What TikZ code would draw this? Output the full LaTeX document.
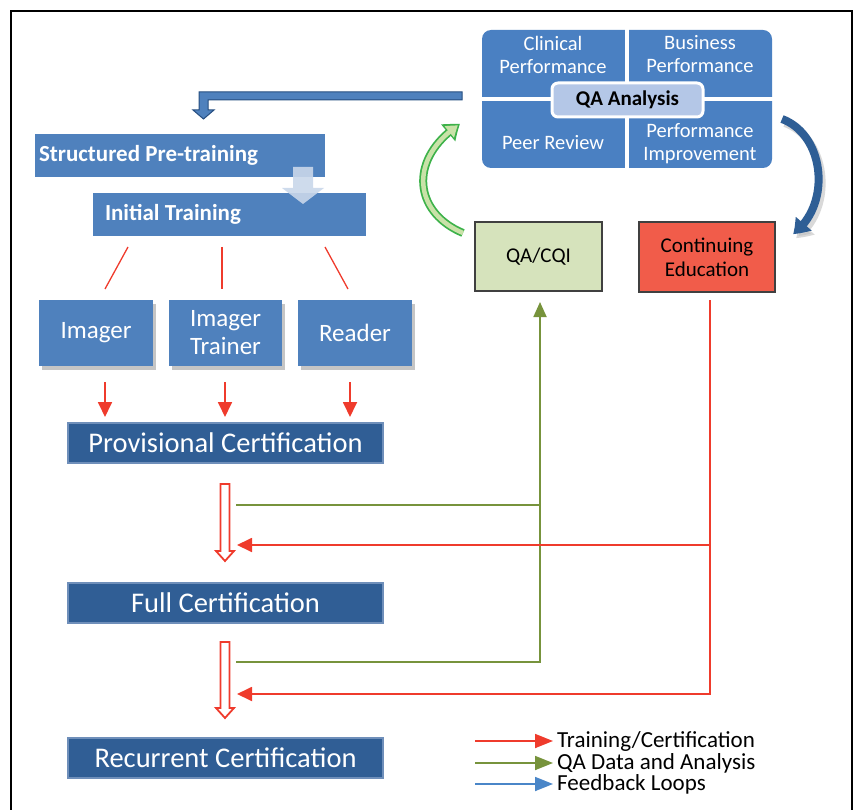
\documentclass[tikz,border=0pt]{standalone}
\usepackage{fontspec}
\setmainfont{Carlito}
\usetikzlibrary{arrows.meta,shadows,bending}
\newcommand\mytightspace{\spaceskip=5.2pt\relax}
\definecolor{boxblue}{HTML}{4F81BD}
\definecolor{qablue}{HTML}{4A80C2}
\definecolor{certblue}{HTML}{305E95}
\definecolor{certglow}{HTML}{6F8FBA}
\definecolor{lightlabel}{HTML}{B4C7E7}
\definecolor{qagreen}{HTML}{D6E3BC}
\definecolor{ceorange}{HTML}{F15C4A}
\definecolor{redline}{HTML}{EF3B2C}
\definecolor{greenline}{HTML}{77933C}
\definecolor{legblue}{HTML}{4A86C8}
\definecolor{fbblue}{HTML}{2E5E95}
\definecolor{fbdark}{HTML}{264E80}
\definecolor{curvegreen}{HTML}{3DB24A}
\definecolor{curvelight}{HTML}{C9E2A8}
\definecolor{downarrow}{HTML}{C9D7EA}
\begin{document}
\begin{tikzpicture}[x=1pt,y=-1pt,
  trainbox/.style={fill=boxblue, draw=none, text=white, font=\bfseries\fontsize{23}{26}\selectfont, minimum height=43pt, inner ysep=0pt},
  rolebox/.style={fill=boxblue, draw=none, text=white, font=\fontsize{25}{28}\selectfont, align=center, minimum width=114pt, minimum height=66pt, inner sep=0pt,
     drop shadow={shadow xshift=3pt, shadow yshift=-4pt, fill=black!45, opacity=0.5}},
  certbox/.style={fill=certblue, draw=certglow, line width=1.5pt, text=white, font=\fontsize{28.5}{32}\selectfont, minimum width=315pt, minimum height=40pt, inner sep=0pt},
  quadtext/.style={text=white, font=\fontsize{20.5}{23}\selectfont, align=center, inner sep=0pt},
  outbox/.style={draw=black!75, line width=1.5pt, font=\fontsize{21}{24}\selectfont, align=center, inner sep=0pt},
  rline/.style={draw=redline, line width=1.8pt},
  gline/.style={draw=greenline, line width=1.8pt},
  rtip/.style={-{Triangle[length=15pt,width=14pt]}},
  legtext/.style={font=\fontsize{23}{23}\selectfont, anchor=west, inner sep=0pt}
]
\useasboundingbox (0,0) rectangle (856,810);
% frame
\draw[line width=2.2pt] (11,812) -- (11,11) -- (852,11) -- (852,812);

% QA analysis block
\fill[qablue, rounded corners=9pt] (482,30) rectangle (772,168);
\draw[white, line width=4pt] (627,29) -- (627,169);
\draw[white, line width=4pt] (481,99) -- (773,99);
\node[quadtext] (clin) at (553,54.5) {Clinical\\Performance};
\node[quadtext] (bus) at (700,54.5) {Business\\Performance};
\node[quadtext] (peer) at (553,143) {Peer Review};
\node[quadtext] (perf) at (700,143.5) {Performance\\Improvement};
\node[fill=lightlabel, draw=white, line width=3pt, rounded corners=6pt, minimum width=151pt, minimum height=34pt, inner sep=0pt, font=\bfseries\fontsize{21}{24}\selectfont] (qaa) at (627.5,100) {QA Analysis};

% feedback arrow to structured pre-training
\filldraw[fill=boxblue, draw=fbdark, line width=1pt] (462,92) -- (199,92) -- (199,110) -- (193,110) -- (203.5,119) -- (214,110) -- (208,110) -- (208,100) -- (462,100) -- cycle;

% training boxes
\node[trainbox, text width=282pt, inner xsep=4pt, align=left] (spt) at (180,155.5) {\mytightspace Structured Pre-training};
\node[trainbox, text width=249pt, inner xsep=12pt, align=left] (it) at (229.5,214.5) {\mytightspace Initial Training};
\fill[downarrow, opacity=0.9] (293,167) -- (313,167) -- (313,188) -- (324,188) -- (303,204) -- (282,188) -- (293,188) -- cycle;

% roles
\node[rolebox] (imager) at (96,333) {Imager};
\node[rolebox, minimum width=113pt] (trainer) at (225.5,333) {Imager\\Trainer};
\node[rolebox] (reader) at (355,333) {Reader};

\coordinate (l1a) at (128,247); \coordinate (l1b) at (105,289);
\coordinate (l2a) at (222,247); \coordinate (l2b) at (222,289);
\coordinate (l3a) at (325,247); \coordinate (l3b) at (348,289);
\draw[rline, line width=1.3pt] (l1a) -- (l1b);
\draw[rline, line width=1.3pt] (l2a) -- (l2b);
\draw[rline, line width=1.3pt] (l3a) -- (l3b);

% certification boxes
\node[certbox] (prov) at (225.5,443) {Provisional Certification};
\node[certbox] (full) at (225.5,603) {Full Certification};
\node[certbox] (rec) at (225.5,758) {Recurrent Certification};

\coordinate (a1a) at (105,382); \coordinate (a1b) at (105,417);
\coordinate (a2a) at (225,382); \coordinate (a2b) at (225,417);
\coordinate (a3a) at (350,382); \coordinate (a3b) at (350,417);
\draw[rline, rtip] (a1a) -- (a1b);
\draw[rline, rtip] (a2a) -- (a2b);
\draw[rline, rtip] (a3a) -- (a3b);

% hollow arrows
\filldraw[fill=white, draw=redline, line width=1.8pt, line join=miter] (220.5,484) -- (229.5,484) -- (229.5,551) -- (234,551) -- (225,561) -- (216,551) -- (220.5,551) -- cycle;
\filldraw[fill=white, draw=redline, line width=1.8pt, line join=miter] (220.5,642) -- (229.5,642) -- (229.5,708) -- (234,708) -- (225,718) -- (216,708) -- (220.5,708) -- cycle;

% QA/CQI and Continuing Education
\node[outbox, fill=qagreen, minimum width=127pt, minimum height=69pt] (qacqi) at (538.5,256.5) {QA/CQI};
\node[outbox, fill=ceorange, minimum width=136pt, minimum height=70pt] (ce) at (707,257) {Continuing\\Education};

% green data lines
\coordinate (gtip) at (540,302);
\coordinate (gc1) at (540,505); \coordinate (ge1) at (236,505);
\coordinate (gc2) at (540,662); \coordinate (ge2) at (236,662);
\draw[gline] (gc1) -- (ge1);
\draw[gline, -{Triangle[length=15pt,width=13pt]}, line join=miter] (ge2) -- (gc2) -- (gtip);

% red education lines
\coordinate (rtop) at (710,300);
\coordinate (rc1) at (710,545); \coordinate (re1) at (237,545);
\coordinate (rc2) at (710,694); \coordinate (re2) at (237,694);
\draw[rline, rtip] (rc1) -- (re1);
\draw[rline, rtip, line join=miter] (rtop) -- (rc2) -- (re2);

% green curved feedback arrow
\draw[curvegreen, line width=8pt, -{Triangle[length=15pt,width=21pt,bend]}] (463,233) .. controls (413,212) and (408,158) .. (460,124);
\draw[curvelight, line width=4.5pt, shorten >=2.5pt, -{Triangle[length=11pt,width=14pt,bend]}] (463,233) .. controls (413,212) and (408,158) .. (460,124);

% blue curved feedback arrow
\draw[black!25, line width=8pt, opacity=0.6, -{Triangle[length=15pt,width=20pt,bend]}] (785,123) .. controls (828,139) and (835,209) .. (796,238);
\draw[fbblue, line width=8pt, -{Triangle[length=15pt,width=20pt,bend]}] (782,119) .. controls (825,135) and (832,205) .. (793,234);

% legend
\coordinate (lr1) at (475,741); \coordinate (lr2) at (553,741);
\coordinate (lg1) at (475,763); \coordinate (lg2) at (553,763);
\coordinate (lb1) at (475,784); \coordinate (lb2) at (553,784);
\draw[draw=redline, line width=1.8pt, -{Triangle[length=18pt,width=14pt]}] (lr1) -- (lr2);
\draw[draw=greenline, line width=1.8pt, -{Triangle[length=18pt,width=14pt]}] (lg1) -- (lg2);
\draw[draw=legblue, line width=1.8pt, -{Triangle[length=18pt,width=14pt]}] (lb1) -- (lb2);
\node[legtext] (lt1) at (557,741) {Training/Certification};
\node[legtext] (lt2) at (557,763) {QA Data and Analysis};
\node[legtext] (lt3) at (557,784) {Feedback Loops};
\end{tikzpicture}
\end{document}
